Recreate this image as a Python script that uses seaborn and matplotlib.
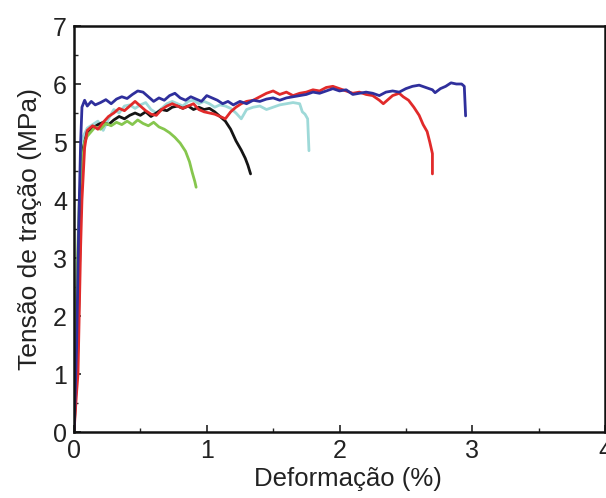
import matplotlib
matplotlib.use("Agg")
import matplotlib.pyplot as plt
import seaborn as sns
import pandas as pd
from matplotlib.ticker import MultipleLocator

# ---- data ----
blue_x = [0.00, 0.02, 0.035, 0.05, 0.06, 0.08, 0.10, 0.13, 0.16, 0.20, 0.24, 0.28, 0.32, 0.36, 0.40,
          0.44, 0.48, 0.52, 0.56, 0.60, 0.64, 0.68, 0.72, 0.76, 0.80, 0.84, 0.88, 0.92, 0.96, 1.00,
          1.04, 1.08, 1.12, 1.16, 1.20, 1.25, 1.30, 1.35, 1.40, 1.45, 1.50, 1.55, 1.60, 1.65, 1.70,
          1.75, 1.80, 1.85, 1.90, 1.95, 2.00, 2.05, 2.10, 2.15, 2.20, 2.25, 2.30, 2.35, 2.40, 2.45,
          2.50, 2.55, 2.60, 2.65, 2.70, 2.72, 2.76, 2.80, 2.84, 2.88, 2.92, 2.94, 2.95]
blue_y = [0.0, 1.5, 3.5, 5.0, 5.6, 5.72, 5.62, 5.70, 5.64, 5.68, 5.73, 5.66, 5.74, 5.78, 5.75,
          5.82, 5.88, 5.86, 5.78, 5.70, 5.76, 5.72, 5.80, 5.84, 5.76, 5.72, 5.78, 5.74, 5.70, 5.80,
          5.76, 5.72, 5.66, 5.70, 5.64, 5.70, 5.66, 5.72, 5.70, 5.74, 5.76, 5.72, 5.76, 5.78, 5.80,
          5.82, 5.86, 5.84, 5.88, 5.92, 5.88, 5.90, 5.82, 5.84, 5.86, 5.84, 5.80, 5.86, 5.88, 5.86,
          5.92, 5.96, 5.98, 5.94, 5.90, 5.85, 5.92, 5.96, 6.02, 6.00, 6.00, 5.96, 5.45]

red_x = [0.00, 0.02, 0.03, 0.05, 0.06, 0.08, 0.10, 0.14, 0.18, 0.22, 0.26, 0.30, 0.34, 0.38, 0.42,
         0.46, 0.50, 0.54, 0.58, 0.62, 0.66, 0.70, 0.74, 0.78, 0.82, 0.86, 0.90, 0.94, 0.98, 1.02,
         1.06, 1.10, 1.14, 1.18, 1.22, 1.26, 1.30, 1.35, 1.40, 1.45, 1.50, 1.55, 1.60, 1.65, 1.70,
         1.75, 1.80, 1.85, 1.90, 1.95, 2.00, 2.05, 2.10, 2.15, 2.20, 2.25, 2.30, 2.33, 2.36, 2.40,
         2.45, 2.48, 2.52, 2.56, 2.60, 2.63, 2.66, 2.68, 2.70, 2.70]
red_y = [0.0, 0.7, 1.0, 3.2, 4.0, 4.9, 5.2, 5.28, 5.22, 5.34, 5.44, 5.50, 5.58, 5.54, 5.62,
         5.70, 5.62, 5.54, 5.48, 5.46, 5.56, 5.62, 5.66, 5.62, 5.58, 5.62, 5.66, 5.56, 5.52, 5.50,
         5.48, 5.44, 5.40, 5.52, 5.60, 5.66, 5.70, 5.72, 5.78, 5.84, 5.88, 5.82, 5.86, 5.80, 5.84,
         5.86, 5.90, 5.88, 5.94, 5.96, 5.92, 5.88, 5.84, 5.86, 5.82, 5.80, 5.72, 5.66, 5.72, 5.80,
         5.84, 5.78, 5.72, 5.60, 5.46, 5.30, 5.18, 5.00, 4.80, 4.45]

cyan_x = [0.00, 0.02, 0.035, 0.05, 0.07, 0.10, 0.14, 0.18, 0.22, 0.26, 0.30, 0.34, 0.38, 0.42, 0.46,
          0.50, 0.54, 0.58, 0.62, 0.66, 0.70, 0.74, 0.78, 0.82, 0.86, 0.90, 0.94, 0.98, 1.02, 1.06,
          1.10, 1.14, 1.18, 1.22, 1.26, 1.30, 1.35, 1.40, 1.45, 1.50, 1.55, 1.60, 1.65, 1.70, 1.72,
          1.74, 1.76, 1.77]
cyan_y = [0.0, 1.2, 2.2, 4.0, 5.1, 5.24, 5.30, 5.36, 5.20, 5.40, 5.56, 5.50, 5.62, 5.64, 5.58,
          5.64, 5.68, 5.56, 5.50, 5.58, 5.66, 5.70, 5.66, 5.62, 5.70, 5.72, 5.66, 5.70, 5.66, 5.60,
          5.64, 5.62, 5.58, 5.50, 5.40, 5.56, 5.60, 5.62, 5.56, 5.60, 5.64, 5.66, 5.68, 5.66, 5.52,
          5.48, 5.40, 4.85]

black_x = [0.00, 0.03, 0.05, 0.07, 0.10, 0.14, 0.18, 0.22, 0.26, 0.30, 0.34, 0.38, 0.42, 0.46, 0.50,
           0.54, 0.58, 0.62, 0.66, 0.70, 0.74, 0.78, 0.82, 0.86, 0.90, 0.94, 0.98, 1.02, 1.06, 1.10,
           1.14, 1.18, 1.22, 1.26, 1.29, 1.31, 1.33]
black_y = [0.0, 1.5, 3.8, 4.9, 5.18, 5.24, 5.30, 5.34, 5.30, 5.38, 5.44, 5.40, 5.46, 5.50, 5.46,
           5.52, 5.44, 5.50, 5.56, 5.54, 5.60, 5.62, 5.58, 5.62, 5.56, 5.60, 5.56, 5.58, 5.52, 5.44,
           5.36, 5.22, 5.02, 4.86, 4.72, 4.60, 4.45]

green_x = [0.00, 0.005, 0.02, 0.04, 0.06, 0.08, 0.10, 0.13, 0.16, 0.20, 0.24, 0.28, 0.32, 0.36, 0.40,
           0.44, 0.48, 0.52, 0.56, 0.60, 0.64, 0.68, 0.72, 0.76, 0.80, 0.84, 0.87, 0.89, 0.91, 0.92]
green_y = [0.0, 1.0, 2.5, 4.0, 4.6, 5.0, 5.1, 5.18, 5.26, 5.22, 5.32, 5.28, 5.34, 5.30, 5.36,
           5.30, 5.38, 5.32, 5.28, 5.34, 5.26, 5.22, 5.16, 5.08, 4.98, 4.84, 4.66, 4.48, 4.32, 4.22]

series_names = ["cyan", "black", "green", "red", "blue"]
colors = {"blue": "#2f2f9c", "red": "#e12a2a", "cyan": "#9ed9d8",
          "black": "#151515", "green": "#86c64e"}

xticks = [0, 1, 2, 3, 4]
yticks = [0, 1, 2, 3, 4, 5, 6, 7]

data = {"blue": (blue_x, blue_y), "red": (red_x, red_y), "cyan": (cyan_x, cyan_y),
        "black": (black_x, black_y), "green": (green_x, green_y)}

frames = []
for name in series_names:
    xs, ys = data[name]
    frames.append(pd.DataFrame({"x": xs, "y": ys, "serie": name}))
df = pd.concat(frames, ignore_index=True)

sns.set_style("ticks")
plt.rcParams["font.family"] = ["Liberation Sans", "DejaVu Sans"]

fig = plt.figure(figsize=(6.06, 4.98), dpi=100)
ax = fig.add_axes([74 / 606, 1 - 432 / 498, (605 - 74) / 606, (432 - 26) / 498])

sns.lineplot(data=df, x="x", y="y", hue="serie", hue_order=series_names, palette=colors,
             sort=False, estimator=None, legend=False, linewidth=2.0, ax=ax)

ax.set_xlim(0, 4)
ax.set_ylim(0, 7)
ax.set_xticks(xticks)
ax.set_yticks(yticks)
ax.xaxis.set_minor_locator(MultipleLocator(0.5))
ax.yaxis.set_minor_locator(MultipleLocator(0.5))
ax.tick_params(axis="both", which="major", direction="in", length=5, width=1.2,
               labelsize=18, colors="#222222", pad=5)
ax.tick_params(axis="both", which="minor", direction="in", length=3, width=1.0)
ax.tick_params(top=False, right=False)
for s in ax.spines.values():
    s.set_linewidth(1.8)
    s.set_color("#111111")

ax.set_xlabel("Deformação (%)", fontsize=18.5, color="#222222", labelpad=4)
ax.xaxis.set_label_coords(0.515, -0.085)
ax.set_ylabel("Tensão de tração (MPa)", fontsize=19, color="#222222", labelpad=8)

fig.savefig("out.png", dpi=100)
